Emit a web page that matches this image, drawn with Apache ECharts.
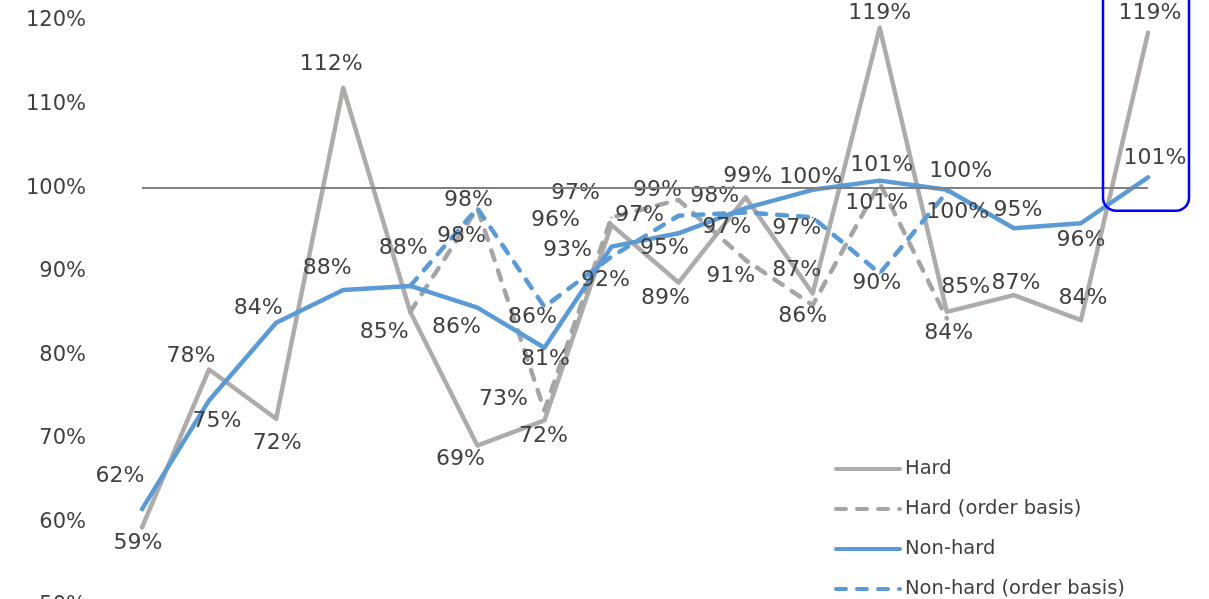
<!DOCTYPE html>
<html>
<head>
<meta charset="utf-8">
<script src="https://cdn.jsdelivr.net/npm/echarts@6/dist/echarts.min.js"></script>
<style>
html,body{margin:0;padding:0;background:#fff;}
#chart{width:1209px;height:599px;}
</style>
</head>
<body>
<div id="chart"></div>
<script>
// ---- data ----
const categories = ['1','2','3','4','5','6','7','8','9','10','11','12','13','14','15','16'];
const seriesNames = ['Hard', 'Hard (order basis)', 'Non-hard', 'Non-hard (order basis)'];
const hard         = [59.4, 78.3, 72.4, 112.0, 85.2, 69.2, 72.2, 95.6, 88.7, 98.9, 87.4, 119.2, 85.2, 87.2, 84.2, 118.6];
const hardOrder    = [null, null, null, null, 85.2, 97.6, 73.4, 96.5, 98.6, 91.4, 86.0, 100.6, 84.4, null, null, null];
const nonHard      = [61.6, 74.6, 83.9, 87.8, 88.3, 85.7, 80.9, 93.0, 94.6, 97.6, 99.8, 100.9, 99.8, 95.2, 95.8, 101.3];
const nonHardOrder = [null, null, null, null, 88.3, 97.6, 85.8, 91.8, 96.7, 97.1, 96.5, 89.8, 99.5, null, null, null];
const referenceValue = 100;
const yMin = 50, yMax = 120, yStep = 10;

// ---- label placement (offsets of label centre from point) ----
const hardLbl = [[-4,16],[-18,-13],[1,24],[-12,-24],[-26,20],[-17,14],[-1,16],[-56,-5],[-13,16],[2,-21],[-16,-23],[0,-14],[19,-25],[2,-12],[2,-22],[2,-19]];
const hardOrderLbl = [null,null,null,null,null,[-16,28],[-41,-11],[-36,-24],[-21,-10],[-15,16],[-10,11],[-3,20],[2,15],null,null,null];
const nonHardLbl = [[-22,-33],[8,21],[-18,-14],[-16,-22],[-7,-38],[-21,20],[1,12],[-44,4],[-14,15],[-31,-12],[-2,-13],[2,-15],[14,-19],[4,-18],[0,17],[7,-19]];
const nonHardOrderLbl = [null,null,null,null,null,[-9,-8],[-12,10],[-6,24],[-39,0],[-19,15],[-16,11],[-3,10],[11,20],null,null,null];

const FONT = 'DejaVu Sans';
const TXT = '#404040';
const LW = 4.5;

function buildData(vals, offs) {
  return vals.map((v, i) => {
    if (v == null) return null;
    const o = offs[i];
    return { value: v, label: o ? { show: true, offset: o } : { show: false } };
  });
}

function mkSeries(name, vals, offs, color, dashed) {
  return {
    name: name,
    type: 'line',
    data: buildData(vals, offs),
    symbol: 'circle',
    symbolSize: 2,
    showSymbol: true,
    itemStyle: { color: color },
    lineStyle: { color: color, width: LW, type: dashed ? [10, 11] : 'solid', cap: 'round', join: 'round' },
    label: {
      show: true, position: 'inside',
      fontFamily: FONT, fontSize: 22, color: TXT,
      formatter: p => Math.round(p.value) + '%'
    },
    emphasis: { disabled: true },
    silent: true,
    animation: false
  };
}

const chart = echarts.init(document.getElementById('chart'), null, { renderer: 'canvas' });

const s0 = mkSeries(seriesNames[0], hard, hardLbl, '#AFABAB', false);
s0.markLine = {
  silent: true, symbol: 'none', animation: false,
  label: { show: false },
  lineStyle: { color: '#808080', width: 2, type: 'solid' },
  data: [{ yAxis: referenceValue }]
};

const legends = seriesNames.map((n, k) => ({
  orient: 'vertical', left: 829, top: 454 + 40 * k,
  itemWidth: 64, itemHeight: 20,
  itemStyle: { opacity: 0 },
  lineStyle: { width: 4, cap: 'round' },
  textStyle: { fontFamily: FONT, fontSize: 19.5, color: TXT },
  selectedMode: false,
  data: [n]
}));

const option = {
  backgroundColor: '#ffffff',
  animation: false,
  grid: { left: 142, right: 61, top: 21, bottom: -7, containLabel: false, outerBoundsMode: 'none' },
  xAxis: {
    type: 'category', data: categories, boundaryGap: false,
    axisLine: { show: false }, axisTick: { show: false }, axisLabel: { show: false }, splitLine: { show: false }
  },
  yAxis: {
    type: 'value', min: yMin, max: yMax, interval: yStep,
    axisLine: { show: false }, axisTick: { show: false }, splitLine: { show: false },
    axisLabel: { formatter: '{value}%', fontFamily: FONT, fontSize: 21, color: TXT, margin: 56 }
  },
  legend: legends,
  series: [
    s0,
    mkSeries(seriesNames[1], hardOrder, hardOrderLbl, '#A5A5A5', true),
    mkSeries(seriesNames[2], nonHard, nonHardLbl, '#5B9BD5', false),
    mkSeries(seriesNames[3], nonHardOrder, nonHardOrderLbl, '#5B9BD5', true)
  ]
};
chart.setOption(option);

// highlight box around the last category
const lastIdx = categories.length - 1;
const px = chart.convertToPixel({ xAxisIndex: 0 }, categories[lastIdx]);
const pyBottom = chart.convertToPixel({ yAxisIndex: 0 }, 97.3);
chart.setOption({
  graphic: [{
    type: 'rect', silent: true, z: 100,
    shape: { x: px - 45, y: -20, width: 86, height: pyBottom + 20, r: 13 },
    style: { fill: 'none', stroke: '#0000FF', lineWidth: 2.5 }
  }]
});
</script>
</body>
</html>
